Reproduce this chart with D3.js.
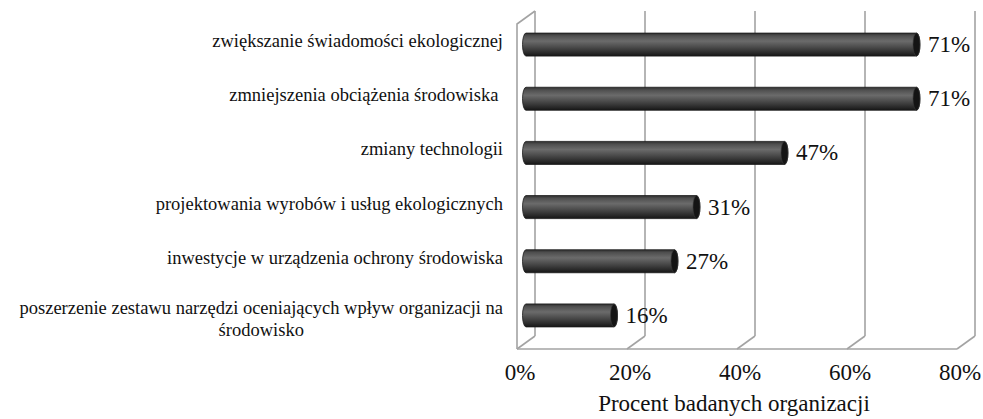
<!DOCTYPE html>
<meta charset="utf-8">
<body style="margin:0;background:#fff">
<script src="https://cdn.jsdelivr.net/npm/d3@7"></script>
<script>

    var categories = [
        "zwiększanie świadomości ekologicznej",
        "zmniejszenia obciążenia środowiska ",
        "zmiany technologii",
        "projektowania wyrobów i usług ekologicznych",
        "inwestycje w urządzenia ochrony środowiska",
        "poszerzenie zestawu narzędzi oceniających wpływ organizacji na\nśrodowisko"
    ];
    var values = [71, 71, 47, 31, 27, 16];
    var ticks = [0, 20, 40, 60, 80];
    var tickLabels = ["0%", "20%", "40%", "60%", "80%"];
    var axisTitle = "Procent badanych organizacji";

    var width = 983,
        height = 419;

    // przesunięcie "głębi" wykresu 3D
    var depthX = 18,
        depthY = -13;

    var x = d3.scaleLinear()
            .domain([0, 80])
            .range([517, 957]);

    var y = d3.scaleBand()
            .domain(categories)
            .range([24, 349])
            .paddingInner(0.575)
            .paddingOuter(0.2875);

    var serif = "'Liberation Serif', 'Times New Roman', serif";
    var gridColor = "#a3a3a3";

    var svg = d3.select("body").append("svg")
            .attr("width", width)
            .attr("height", height)
            .style("display", "block");

    var defs = svg.append("defs");
    var grad = defs.append("linearGradient")
            .attr("id", "cyl")
            .attr("x1", 0).attr("y1", 0)
            .attr("x2", 0).attr("y2", 1);
    [[0, "#2e2e2e"], [0.12, "#4f4f4f"], [0.35, "#6b6b6b"], [0.6, "#4c4c4c"], [0.85, "#2b2b2b"], [1, "#161616"]]
        .forEach(function(s) {
            grad.append("stop").attr("offset", s[0]).attr("stop-color", s[1]);
        });

    var yTop = y.range()[0],
        yBottom = y.range()[1];

    // ściany: linie siatki na tylnej ścianie i podłodze
    var walls = svg.append("g")
            .attr("fill", "none")
            .attr("stroke", gridColor)
            .attr("stroke-width", 1.6);

    ticks.forEach(function(t) {
        walls.append("line")
            .attr("x1", x(t) + depthX).attr("y1", yTop + depthY)
            .attr("x2", x(t) + depthX).attr("y2", yBottom + depthY);
        walls.append("line")
            .attr("x1", x(t)).attr("y1", yBottom)
            .attr("x2", x(t) + depthX).attr("y2", yBottom + depthY);
    });

    // lewa ściana
    walls.append("path")
        .attr("d", "M" + x(0) + "," + yBottom + "V" + yTop + "l" + depthX + "," + depthY);

    // podłoga - przednia krawędź
    walls.append("line")
        .attr("x1", x(0)).attr("y1", yBottom)
        .attr("x2", x(80)).attr("y2", yBottom);

    // słupki jako walce
    var rx = 3.5;
    var bars = svg.append("g");

    categories.forEach(function(c, i) {
        var ry = y.bandwidth() / 2;
        var cy = y(c) + ry + depthY / 2;
        var x0 = x(0) + depthX / 2;
        var x1 = x(values[i]) + depthX / 2;

        bars.append("path")
            .attr("fill", "url(#cyl)")
            .attr("stroke", "#1a1a1a")
            .attr("stroke-width", 0.8)
            .attr("d", "M" + x0 + "," + (cy - ry) + "L" + x1 + "," + (cy - ry) +
                "A" + rx + "," + ry + " 0 0 1 " + x1 + "," + (cy + ry) +
                "L" + x0 + "," + (cy + ry) +
                "A" + rx + "," + ry + " 0 0 1 " + x0 + "," + (cy - ry) + "Z");

        bars.append("ellipse")
            .attr("cx", x1).attr("cy", cy)
            .attr("rx", rx).attr("ry", ry)
            .attr("fill", "#141414")
            .attr("stroke", "#3a3a3a")
            .attr("stroke-width", 0.6);

        svg.append("text")
            .attr("x", x1 + rx + 8)
            .attr("y", cy + 7.5)
            .attr("font-family", serif)
            .attr("font-size", 23)
            .attr("fill", "#111")
            .text(values[i] + "%");

        // etykiety kategorii (mogą mieć kilka linii)
        var lines = c.split("\n");
        var label = svg.append("text")
                .attr("font-family", serif)
                .attr("font-size", 18.5)
                .attr("fill", "#111")
                .style("white-space", "pre");
        var base = cy + 2.5 - (lines.length - 1) * 3.5;
        var first = label.append("tspan")
                .attr("x", 503).attr("y", base)
                .attr("text-anchor", "end")
                .text(lines[0]);
        if (lines.length > 1) {
            var w = first.node().getComputedTextLength();
            lines.slice(1).forEach(function(l, k) {
                label.append("tspan")
                    .attr("x", 503 - w / 2)
                    .attr("y", base + 21.5 * (k + 1))
                    .attr("text-anchor", "middle")
                    .text(l);
            });
        }
    });

    // oś X
    svg.append("g")
        .selectAll("text")
        .data(ticks)
        .enter().append("text")
        .attr("x", function(d) { return x(d) + 3; })
        .attr("y", 380)
        .attr("text-anchor", "middle")
        .attr("font-family", serif)
        .attr("font-size", 23)
        .attr("fill", "#111")
        .text(function(d, i) { return tickLabels[i]; });

    svg.append("text")
        .attr("x", 734)
        .attr("y", 411)
        .attr("text-anchor", "middle")
        .attr("font-family", serif)
        .attr("font-size", 23)
        .attr("fill", "#111")
        .text(axisTitle);

</script>
